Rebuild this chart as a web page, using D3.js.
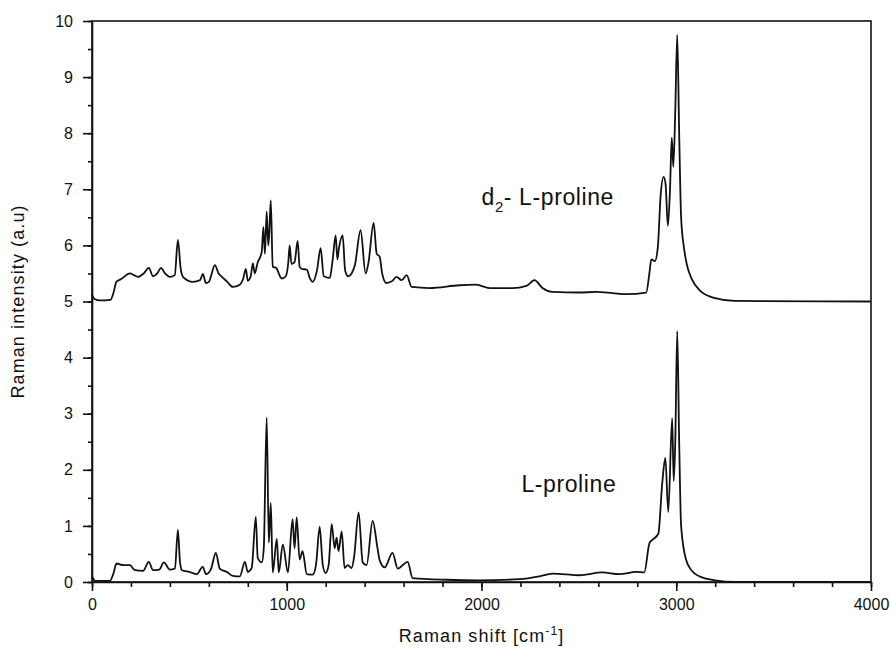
<!DOCTYPE html>
<html>
<head>
<meta charset="utf-8">
<script src="https://cdn.jsdelivr.net/npm/d3@7"></script>
<style>
  body { margin: 0; background: #fff; }
  svg { display: block; font-family: "Liberation Sans", Arial, sans-serif; }
  .axis path, .axis line { stroke: #111; stroke-width: 1.6; }
  .axis text { font-size: 16px; fill: #111; }
  .trace { fill: none; stroke: #111; stroke-width: 1.8; stroke-linejoin: round; }
</style>
</head>
<body>
<svg id="chart" width="891" height="652"></svg>
<script>
const MARGINS = { left: 92, top: 21, right: 20, bottom: 70 };
const WIDTH = 891;
const HEIGHT = 652;

// Raman shift (cm-1) vs intensity (a.u)
const lProline = [
  [0, 0.1], [8, 0.05], [15, 0.02], [92, 0.02], [110, 0.15], [126, 0.33],
  [160, 0.3], [195, 0.3], [220, 0.21], [262, 0.2], [292, 0.36], [313, 0.21],
  [345, 0.22], [369, 0.35], [400, 0.22], [426, 0.24], [441, 0.93], [452, 0.35],
  [462, 0.21], [500, 0.18], [538, 0.14], [569, 0.27], [585, 0.14], [610, 0.22],
  [636, 0.52], [656, 0.24], [692, 0.18], [723, 0.11], [759, 0.1], [785, 0.36],
  [800, 0.18], [820, 0.25], [841, 1.16], [851, 0.43], [872, 0.35], [882, 0.6],
  [897, 2.93], [908, 0.7], [918, 1.41], [928, 0.17], [949, 0.77], [959, 0.17],
  [980, 0.67], [1006, 0.17], [1030, 1.12], [1040, 0.6], [1051, 1.15], [1066, 0.4],
  [1081, 0.55], [1103, 0.14], [1133, 0.13], [1150, 0.3], [1169, 0.98], [1185, 0.3],
  [1200, 0.16], [1215, 0.3], [1231, 1.03], [1246, 0.6], [1256, 0.79], [1266, 0.55],
  [1282, 0.9], [1297, 0.25], [1313, 0.3], [1333, 0.25], [1346, 0.45], [1369, 1.24],
  [1390, 0.35], [1410, 0.3], [1441, 1.09], [1467, 0.58], [1477, 0.39], [1503, 0.26],
  [1543, 0.52], [1570, 0.24], [1621, 0.36], [1646, 0.07], [1820, 0.04], [1990, 0.03],
  [2195, 0.05], [2297, 0.1], [2364, 0.15], [2503, 0.12], [2621, 0.17], [2708, 0.14],
  [2795, 0.18], [2836, 0.17], [2862, 0.69], [2877, 0.75], [2908, 0.86], [2928, 1.76],
  [2944, 2.21], [2959, 1.25], [2979, 2.92], [2987, 1.8], [2995, 2.5], [3005, 4.47],
  [3015, 2.5], [3025, 1.0], [3050, 0.4], [3080, 0.2], [3120, 0.1], [3200, 0.03],
  [3300, 0.0], [4000, 0.0],
];

const d2Proline = [
  [0, 5.12], [15, 5.04], [40, 5.02], [95, 5.03], [110, 5.15], [125, 5.35],
  [150, 5.4], [195, 5.5], [215, 5.47], [236, 5.44], [265, 5.5], [292, 5.6],
  [313, 5.45], [335, 5.5], [354, 5.6], [375, 5.5], [400, 5.44], [425, 5.47],
  [441, 6.1], [455, 5.6], [467, 5.44], [518, 5.35], [555, 5.38], [569, 5.49],
  [585, 5.33], [600, 5.35], [631, 5.65], [650, 5.5], [667, 5.44], [692, 5.36],
  [723, 5.26], [759, 5.3], [776, 5.4], [790, 5.58], [800, 5.37], [815, 5.45],
  [826, 5.68], [836, 5.5], [851, 5.7], [862, 5.78], [872, 5.9], [880, 6.33],
  [888, 5.85], [897, 6.6], [905, 6.0], [910, 6.2], [918, 6.8], [928, 5.62],
  [945, 5.6], [974, 5.41], [995, 5.45], [1008, 5.7], [1015, 6.0], [1024, 5.67],
  [1040, 5.7], [1056, 6.08], [1066, 5.62], [1077, 5.58], [1103, 5.57], [1118, 5.42],
  [1133, 5.35], [1155, 5.55], [1174, 5.95], [1190, 5.45], [1221, 5.42], [1236, 5.75],
  [1251, 6.18], [1260, 5.75], [1268, 5.95], [1287, 6.18], [1300, 5.55], [1316, 5.45],
  [1333, 5.5], [1350, 5.65], [1379, 6.27], [1405, 5.5], [1420, 5.7], [1446, 6.4],
  [1462, 5.85], [1477, 5.8], [1490, 5.5], [1511, 5.33], [1540, 5.36], [1563, 5.44],
  [1590, 5.38], [1616, 5.47], [1641, 5.26], [1733, 5.24], [1887, 5.29], [1972, 5.3],
  [2041, 5.24], [2159, 5.24], [2231, 5.28], [2272, 5.38], [2313, 5.24], [2364, 5.17],
  [2503, 5.16], [2590, 5.17], [2673, 5.15], [2744, 5.13], [2846, 5.16], [2862, 5.5],
  [2872, 5.75], [2890, 5.72], [2905, 5.95], [2920, 6.9], [2935, 7.22], [2945, 7.1],
  [2957, 6.35], [2968, 7.0], [2977, 7.92], [2985, 7.4], [2995, 8.4], [3005, 9.75],
  [3015, 8.0], [3025, 6.5], [3040, 5.95], [3055, 5.65], [3080, 5.4], [3120, 5.2],
  [3200, 5.06], [3300, 5.01], [4000, 5.0],
];

const xTicks = [0, 1000, 2000, 3000, 4000];
const yTicks = [0, 1, 2, 3, 4, 5, 6, 7, 8, 9, 10];
const xMinorStep = 200;
const yMinorStep = 0.5;

const labels = [
  { text: "d", sub: "2", rest: "- L-proline", x: 2000, y: 6.72 },
  { text: "L-proline", sub: null, rest: "", x: 2205, y: 1.6 },
];

const svg = d3.select("#chart");

const x = d3.scaleLinear()
  .domain([0, 4000])
  .range([MARGINS.left, WIDTH - MARGINS.right]);

const y = d3.scaleLinear()
  .domain([0, 10])
  .range([HEIGHT - MARGINS.bottom, MARGINS.top]);

// frame (top and right edges)
svg.append("rect")
  .attr("x", x(0))
  .attr("y", y(10))
  .attr("width", x(4000) - x(0))
  .attr("height", y(0) - y(10))
  .attr("fill", "none")
  .attr("stroke", "#111")
  .attr("stroke-width", 1.6);

// minor ticks
svg.append("g")
  .attr("class", "axis")
  .attr("transform", `translate(0, ${y(0)})`)
  .call(d3.axisBottom(x).tickValues(d3.range(0, 4001, xMinorStep)).tickSize(5).tickFormat(""))
  .call((g) => g.select(".domain").remove());

svg.append("g")
  .attr("class", "axis")
  .attr("transform", `translate(${x(0)}, 0)`)
  .call(d3.axisLeft(y).tickValues(d3.range(0, 10.01, yMinorStep)).tickSize(4).tickFormat(""))
  .call((g) => g.select(".domain").remove());

// major ticks
svg.append("g")
  .attr("class", "axis")
  .attr("transform", `translate(0, ${y(0)})`)
  .call(d3.axisBottom(x).tickValues(xTicks).tickSize(9).tickSizeOuter(0).tickPadding(8).tickFormat(d3.format("d")));

svg.append("g")
  .attr("class", "axis")
  .attr("transform", `translate(${x(0)}, 0)`)
  .call(d3.axisLeft(y).tickValues(yTicks).tickSize(9).tickSizeOuter(0).tickPadding(10).tickFormat(d3.format("d")));

// spectra
const line = d3.line()
  .x((d) => x(d[0]))
  .y((d) => y(d[1]))
  .curve(d3.curveMonotoneX);

svg.append("g")
  .selectAll("path")
  .data([d2Proline, lProline])
  .join("path")
  .attr("class", "trace")
  .attr("d", line);

// labels inside the plot
labels.forEach((l) => {
  const t = svg.append("text")
    .attr("x", x(l.x))
    .attr("y", y(l.y))
    .attr("font-size", 23)
    .attr("letter-spacing", 0.6)
    .attr("fill", "#111")
    .text(l.text);
  if (l.sub) {
    t.append("tspan").attr("font-size", 15).attr("dy", 7).text(l.sub);
    t.append("tspan").attr("dy", -7).text(l.rest);
  }
});

// axis titles
const xTitle = svg.append("text")
  .attr("x", (x(0) + x(4000)) / 2)
  .attr("y", 642)
  .attr("text-anchor", "middle")
  .attr("font-size", 18)
  .attr("letter-spacing", 1.1)
  .attr("fill", "#111")
  .text("Raman shift [cm");
xTitle.append("tspan").attr("font-size", 12).attr("dy", -7).text("-1");
xTitle.append("tspan").attr("dy", 7).text("]");

svg.append("text")
  .attr("transform", `translate(24, ${(y(0) + y(10)) / 2}) rotate(-90)`)
  .attr("text-anchor", "middle")
  .attr("font-size", 18)
  .attr("letter-spacing", 1.1)
  .attr("fill", "#111")
  .text("Raman intensity (a.u)");
</script>
</body>
</html>
